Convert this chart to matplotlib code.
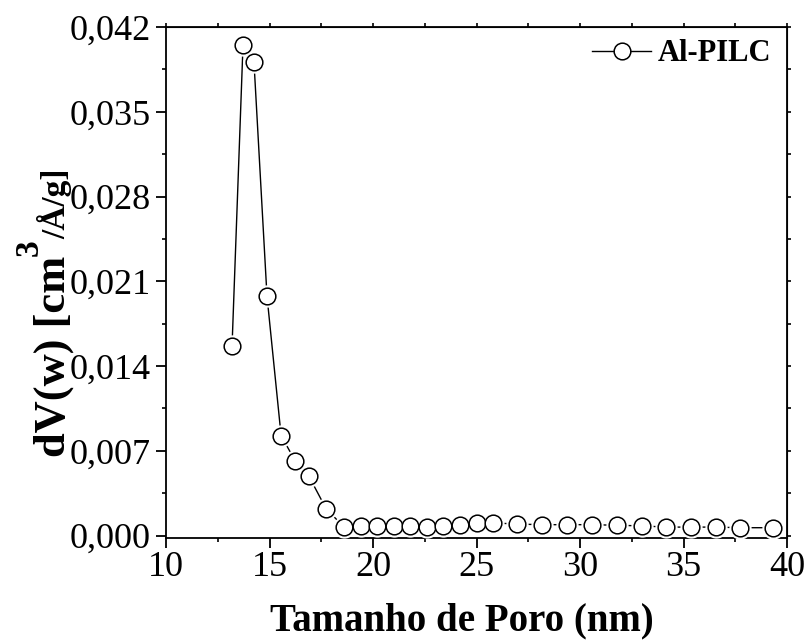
import matplotlib.pyplot as plt
from matplotlib.ticker import MultipleLocator, FuncFormatter
from matplotlib.lines import Line2D

# pore size (nm) and dV(w)
pore_size = [13.19, 13.72, 14.25, 14.88, 15.56, 16.23, 16.91, 17.73, 18.6, 19.42,
             20.19, 21.01, 21.79, 22.61, 23.38, 24.2, 25.02, 25.8, 26.96, 28.16,
             29.37, 30.58, 31.79, 33.0, 34.15, 35.36, 36.57, 37.73, 39.32]
dv = [0.01562, 0.0405, 0.0391, 0.01975, 0.00826, 0.0062, 0.00488, 0.00223, 0.0007, 0.0008,
      0.0008, 0.0008, 0.00075, 0.0007, 0.00075, 0.0009, 0.001, 0.00105, 0.00095, 0.0009,
      0.0009, 0.0009, 0.00085, 0.0008, 0.0007, 0.0007, 0.0007, 0.00065, 0.00065]
series_label = 'Al-PILC'

plt.rcParams['font.family'] = 'Liberation Serif'

W, H = 807, 640
fig = plt.figure(figsize=(W / 100, H / 100), dpi=100)
ax = fig.add_axes([166 / W, 1 - 538 / H, (787 - 166) / W, (538 - 27) / H])

ax.plot(pore_size, dv, color='black', lw=1.0, zorder=2)
# white halo so the line stops short of each marker
ax.plot(pore_size, dv, ls='none', marker='o', ms=15, mfc='white', mec='white', zorder=3)
ax.plot(pore_size, dv, ls='none', marker='o', ms=12, mfc='white', mec='black', mew=1.1, zorder=4)

ax.set_xlim(10, 40)
ax.set_ylim(-0.0002, 0.042)
ax.xaxis.set_major_locator(MultipleLocator(5))
ax.xaxis.set_minor_locator(MultipleLocator(2.5))
ax.yaxis.set_major_locator(MultipleLocator(0.007))
ax.yaxis.set_minor_locator(MultipleLocator(0.0035))
ax.yaxis.set_major_formatter(FuncFormatter(lambda v, p: f'{v:.3f}'.replace('.', ',')))

for s in ax.spines.values():
    s.set_linewidth(1.3)
ax.tick_params(which='major', direction='out', length=7, width=1.3, labelsize=26)
ax.tick_params(axis='x', which='major', pad=2)
ax.tick_params(axis='y', which='major', pad=4)
ax.tick_params(which='minor', direction='out', length=3, width=1.2)

sx = ax.secondary_xaxis('top')
sx.xaxis.set_major_locator(MultipleLocator(2.5))
sx.tick_params(direction='out', length=3, width=1.2, labeltop=False)
sy = ax.secondary_yaxis('right')
sy.yaxis.set_major_locator(MultipleLocator(0.0035))
sy.tick_params(direction='out', length=3, width=1.2, labelright=False)

handle = Line2D([], [], color='black', lw=1.0, marker='o', ms=12, mfc='white', mec='black', mew=1.1)
ax.legend([handle], [series_label], loc='upper right', frameon=False,
          prop={'weight': 'bold', 'size': 22}, handlelength=1.9, handletextpad=0.25,
          borderaxespad=0.0, bbox_to_anchor=(0.995, 1.0))

fig.text(462 / W, 1 - 630 / H, 'Tamanho de Poro (nm)', ha='center', va='baseline',
         fontsize=28, fontweight='bold')

# y label built from pieces: main text, large superscript, smaller tail
renderer = fig.canvas.get_renderer()
xb, yb = 65, H - 457
t1 = fig.text(xb / W, yb / H, 'dV(w) [cm', rotation=90, rotation_mode='anchor',
              ha='left', va='baseline', fontsize=32, fontweight='bold')
y1 = t1.get_window_extent(renderer).y1
t2 = fig.text((xb - 27) / W, y1 / H, '3', rotation=90, rotation_mode='anchor',
              ha='left', va='baseline', fontsize=24, fontweight='bold')
y2 = t2.get_window_extent(renderer).y1
fig.text(xb / W, y2 / H, '/Å/g]', rotation=90, rotation_mode='anchor',
         ha='left', va='baseline', fontsize=24, fontweight='bold')

fig.savefig('out.png', dpi=100)
